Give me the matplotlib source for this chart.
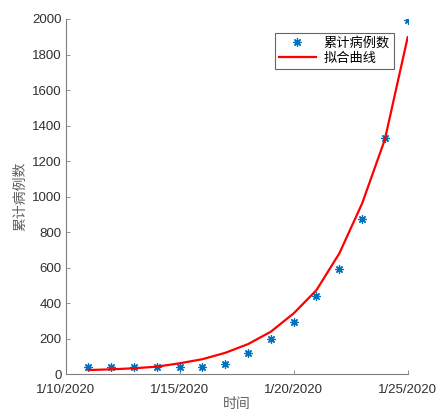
import numpy as np
import matplotlib
matplotlib.use('Agg')
import matplotlib.pyplot as plt

plt.rcParams['font.family'] = ['Liberation Sans', 'Noto Sans CJK SC', 'DejaVu Sans']

# Cumulative cases, 1/11 .. 1/25 (2020)
dates = np.arange(np.datetime64('2020-01-11'), np.datetime64('2020-01-26'))
cases = [40, 40, 40, 40, 40, 40, 57, 119, 200, 292, 440, 591, 873, 1328, 1995]
fit = [24, 28, 34, 43, 62, 85, 121, 170, 240, 343, 474, 680, 961, 1322, 1897]

tick_dates = np.array(['2020-01-10', '2020-01-15', '2020-01-20', '2020-01-25'],
                      dtype='datetime64[D]')
tick_labels = ['1/10/2020', '1/15/2020', '1/20/2020', '1/25/2020']
yticks = [0, 200, 400, 600, 800, 1000, 1200, 1400, 1600, 1800, 2000]

fig = plt.figure(figsize=(4.37, 4.11), dpi=100)
ax = fig.add_axes([0.1503, 0.0893, 0.7826, 0.8645])

# MATLAB-style asterisk marker
ax.plot(dates, cases, linestyle='none', marker=(8, 2, 0), color='#0072BD',
        markersize=6, markeredgewidth=0.9, label='累计病例数')
ax.plot(dates, fit, '-', color='red', linewidth=1.6, label='拟合曲线')

ax.set_xlim(tick_dates[0], tick_dates[-1])
ax.set_ylim(0, 2000)
ax.set_xticks(tick_dates)
ax.set_xticklabels(tick_labels)
ax.set_yticks(yticks)

for s in ['top', 'right']:
    ax.spines[s].set_visible(False)
for s in ['left', 'bottom']:
    ax.spines[s].set_color('#808080')
    ax.spines[s].set_linewidth(0.8)
ax.tick_params(direction='in', length=3, width=0.6, colors='#808080',
               labelcolor='#303030', labelsize=9.5)
ax.tick_params(axis='x', pad=7)
ax.tick_params(axis='y', pad=3)

cjk = ['Noto Sans CJK SC', 'DejaVu Sans']
ax.set_xlabel('时间', fontsize=10, color='#606060', labelpad=1, family=cjk)
ax.set_ylabel('累计病例数', fontsize=10, color='#606060', labelpad=3, family=cjk)

leg = ax.legend(loc='upper right', bbox_to_anchor=(0.959, 0.961), borderaxespad=0,
                fancybox=False, edgecolor='#404040', handlelength=2.8,
                borderpad=0.3, labelspacing=0.15, handletextpad=0.6,
                prop={'family': cjk, 'size': 9.5})
leg.get_frame().set_linewidth(0.8)

fig.savefig('out.png', dpi=100)
